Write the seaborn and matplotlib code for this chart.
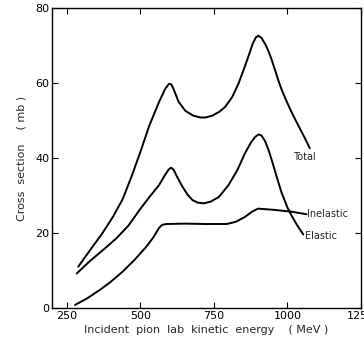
import numpy as np
import pandas as pd
import matplotlib.pyplot as plt
import seaborn as sns

# values (MeV, mb)
total_energy = [289, 330, 370, 407, 440, 470, 502, 530, 564, 585, 598, 606, 615, 630,
                653, 680, 705, 722, 745, 770, 789, 812, 834, 852, 867, 882, 893, 902,
                912, 925, 936, 946, 958, 970, 982, 995, 1010, 1025, 1040, 1058, 1076]
total_xs = [11.0, 15.5, 19.8, 24.3, 29.0, 35.0, 42.0, 48.5, 55.0, 58.5, 59.8, 59.6, 58.0, 55.0,
            52.6, 51.3, 50.8, 50.8, 51.3, 52.4, 53.7, 56.2, 59.9, 63.7, 67.0, 70.5, 72.2, 72.6,
            72.0, 70.3, 68.4, 66.3, 63.4, 60.5, 57.9, 55.5, 52.9, 50.5, 48.2, 45.5, 42.6]

elastic_energy = [284, 330, 380, 419, 460, 497, 530, 564, 585, 597, 605, 613, 625, 643,
                  660, 677, 695, 716, 740, 767, 800, 830, 856, 875, 890, 902, 912, 924,
                  936, 950, 965, 980, 1000, 1015, 1032, 1054]
elastic_xs = [9.2, 12.6, 15.9, 18.6, 22.0, 26.1, 29.5, 32.8, 35.6, 37.0, 37.4, 36.9, 35.0, 32.4,
              30.3, 28.8, 28.1, 27.9, 28.4, 29.6, 32.8, 36.8, 41.3, 44.0, 45.6, 46.3, 46.0, 44.5,
              42.1, 38.6, 34.6, 30.8, 26.8, 24.5, 22.2, 19.6]

inelastic_energy = [278, 320, 362, 400, 440, 480, 520, 545, 564, 575, 590, 650, 720, 794,
                    825, 856, 880, 900, 950, 1012, 1065]
inelastic_xs = [0.8, 2.6, 4.8, 7.0, 9.7, 12.8, 16.3, 18.9, 21.4, 22.2, 22.4, 22.5, 22.4, 22.4,
                23.0, 24.3, 25.7, 26.5, 26.2, 25.7, 25.0]

sns.set_style("ticks")
plt.rcParams['font.family'] = ['DejaVu Sans']

fig = plt.figure(figsize=(3.64, 3.45), dpi=100)
ax = fig.add_axes([52 / 364, 37 / 345, 309 / 364, 300 / 345])

for xs, ys in [(total_energy, total_xs), (elastic_energy, elastic_xs),
               (inelastic_energy, inelastic_xs)]:
    df = pd.DataFrame({'energy': xs, 'xs': ys})
    sns.lineplot(data=df, x='energy', y='xs', sort=False, color='black',
                 linewidth=1.4, ax=ax)

ax.text(1019, 40.3, 'Total', fontsize=7, va='center', ha='left')
ax.text(1068, 25.0, 'Inelastic', fontsize=7, va='center', ha='left')
ax.text(1059, 19.3, 'Elastic', fontsize=7, va='center', ha='left')

ax.set_xlim(200, 1250)
ax.set_ylim(0, 80)
ax.set_xticks([250, 500, 750, 1000, 1250])
ax.set_yticks([0, 20, 40, 60, 80])
ax.tick_params(direction='in', length=4, width=0.8, labelsize=8, colors='black',
               top=True, right=True, pad=2)
for s in ax.spines.values():
    s.set_linewidth(1.0)
    s.set_color('black')

ax.set_xlabel('Incident  pion  lab  kinetic  energy    ( MeV )', fontsize=8, labelpad=3)
ax.set_ylabel('Cross  section    ( mb )', fontsize=8, labelpad=6)

fig.savefig('out.png', dpi=100)
